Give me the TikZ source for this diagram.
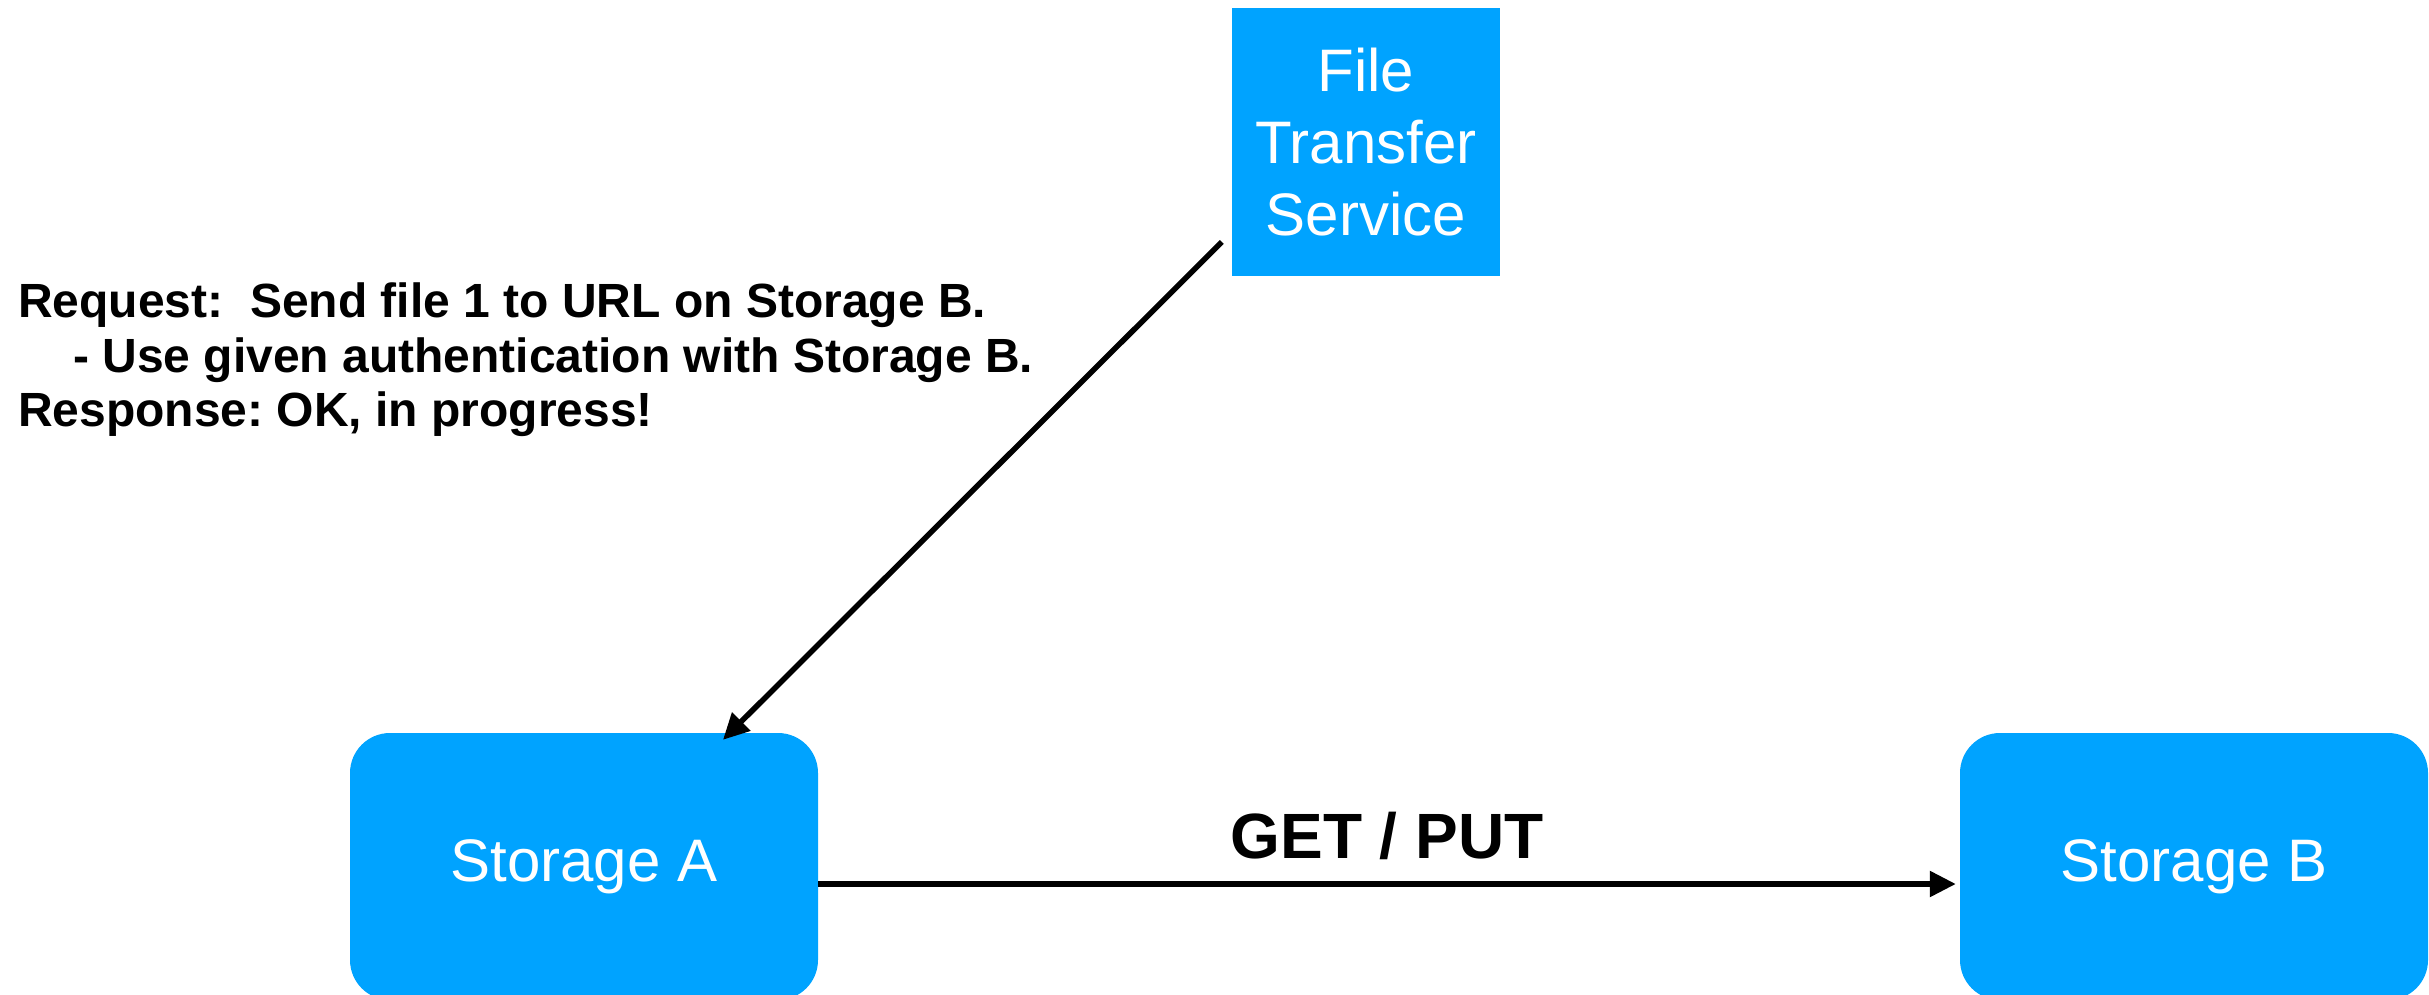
\documentclass[tikz,border=0pt]{standalone}
\usepackage{fontspec}
\setmainfont{Liberation Sans}
\usetikzlibrary{arrows.meta}
\definecolor{boxblue}{RGB}{0,163,255}
\frenchspacing
\begin{document}
\begin{tikzpicture}[x=1pt,y=-1pt,
  box/.style={fill=boxblue, text=white, inner sep=0pt, font=\fontsize{60}{72}\selectfont},
  storebox/.style={box, rounded corners=40pt, minimum width=468pt, minimum height=267pt},
  conn/.style={line width=5.5pt, -{Triangle[length=26pt,width=25pt]}},
  lbl/.style={font=\fontsize{48}{54}\selectfont\bfseries, anchor=base west, inner sep=0pt}]
\useasboundingbox (0,0) rectangle (2429,995);
\node[box, minimum width=268pt, minimum height=268pt, align=center] (fts) at (1366,142) {File\\Transfer\\Service};
\node[storebox] (sa) at (584,866.5) {Storage A};
\node[storebox] (sb) at (2194,866.5) {Storage B};
\coordinate (fstart) at ([shift={(-10,100)}]fts.west);
\coordinate (atip) at ([shift={(139,7)}]sa.north);
\draw[conn] (fstart) -- (atip);
\draw[conn] ([yshift=-17.5pt]sa.east) -- ([yshift=-17.5pt,xshift=-4pt]sb.west);
\node[font=\fontsize{64}{70}\selectfont\bfseries, anchor=base, inner sep=0pt] (gp) at (1387,858) {GET / PUT};
\node[lbl] (req1) at (18,317) {Request:\ \ Send file 1 to URL on Storage B.};
\node[lbl] (req2) at (73,372) {- Use given authentication with Storage B.};
\node[lbl] (resp) at (18,426) {Response: OK, in progress!};
\end{tikzpicture}
\end{document}
